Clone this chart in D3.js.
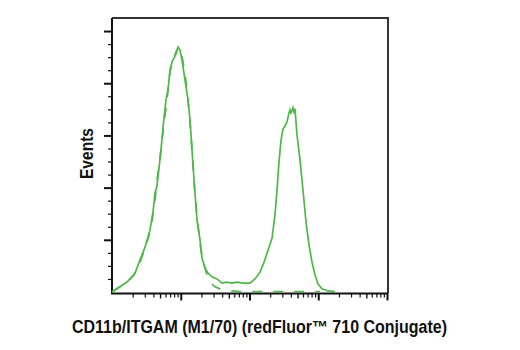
<!DOCTYPE html>
<html>
<head>
<meta charset="utf-8">
<script src="https://cdn.jsdelivr.net/npm/d3@7"></script>
<style>
  html, body { margin: 0; padding: 0; background: #fff; }
  svg { display: block; }
  text { font-family: "Liberation Sans Narrow", "Arial Narrow", "Liberation Sans", sans-serif; font-weight: bold; fill: #111; }
</style>
</head>
<body>
<svg id="chart" width="520" height="350"></svg>
<script>
// Stained sample (solid line): fluorescence intensity and event counts
const stainedX = [10, 13, 16.5, 19.5, 21.6, 25.5, 30.2, 35.7, 39.5, 42.2, 45.1, 48.3, 51.6, 55.2, 61, 65.2, 69.8, 74.6, 79.8, 85.3, 91.2, 97.5, 104.2, 115.3, 127.5, 136.3, 145.8, 156, 172.2, 190.5, 203.7, 225.3, 249, 284.8, 336.7, 398, 470.5, 556, 658, 804, 1016, 1202, 1421, 1625, 1858, 2125, 2349, 2512, 2686, 2872, 3071, 3284, 3511, 3754, 3882, 4015, 4152, 4293, 4439, 4590, 4909, 5428, 6002, 6637, 7339, 8115, 8973, 9921, 11340, 13870, 17500];
const stainedY = [0, 10, 19, 29, 36, 61, 86, 119, 153, 190, 203, 238, 272, 316, 368, 387, 425, 441, 448, 456, 469, 464, 445, 406, 368, 330, 272, 215, 138, 100, 65, 46, 36, 29, 25, 17, 19, 17, 19, 17, 17, 25, 38, 57, 80, 103, 148, 195, 249, 291, 312, 318, 326, 343, 349, 343, 347, 353, 345, 351, 301, 253, 195, 134, 90, 57, 33, 15, 6, 2, 1];

// Isotype control (dashed line)
const controlX = [10, 13, 17.1, 20.9, 25.5, 31.2, 36.9, 42.2, 46.7, 51.6, 57, 63, 69.8, 77.1, 85.3, 94.3, 101, 107.9, 115.3, 123.3, 131.8, 141, 150.8, 161.2, 178.1, 197, 217.8, 240.7, 275.3, 315, 372, 452, 556, 728, 10600];
const controlY = [0, 10, 21, 33, 57, 88, 123, 176, 230, 272, 322, 368, 422, 445, 460, 471, 460, 441, 418, 387, 349, 301, 243, 186, 128, 80, 52, 33, 17, 10, 6, 3, 2, 1, 1];

// Axis ticks (no labels shown in the reference)
const xMajorTicks = [100, 1000, 10000, 100000];
const xMidTicks = [50, 500, 5000, 50000];
const xMinorTicks = [20, 30, 40, 60, 70, 80, 90, 200, 300, 400, 600, 700, 800, 900, 2000, 3000, 4000, 6000, 7000, 8000, 9000, 20000, 30000, 40000, 60000, 70000, 80000, 90000];
const yMajorTicks = [0, 100, 200, 300, 400, 500];
const yMinorTicks = [25, 50, 75, 125, 150, 175, 225, 250, 275, 325, 350, 375, 425, 450, 475];

const xLabel = "CD11b/ITGAM (M1/70) (redFluor\u2122 710 Conjugate)";
const yLabel = "Events";

const svg = d3.select("#chart");
const L = 112, R = 388, T = 18, B = 292, AX = 293.5;
const green = "#4db848";

const x = d3.scaleLog().domain([10, 100000]).range([L, R - 1]);
const y = d3.scaleLinear().domain([0, 525]).range([B, T]);

// Frame (top and right)
svg.append("path")
  .attr("d", `M${L},${T}H${R}V${AX}`)
  .attr("fill", "none").attr("stroke", "#333").attr("stroke-width", 2);

function drawAxis(gen, cls, width) {
  const g = svg.append("g").attr("class", cls).call(gen);
  g.selectAll(".tick line").attr("stroke", "#111").attr("stroke-width", width);
  g.select(".domain").remove();
  g.selectAll("text").remove();
  return g;
}

// x axis
const gxB = `translate(0,${AX})`;
drawAxis(d3.axisBottom(x).tickValues(xMinorTicks).tickSize(4).tickFormat(""), "xminor", 1.2).attr("transform", gxB);
drawAxis(d3.axisBottom(x).tickValues(xMidTicks).tickSize(5).tickFormat(""), "xmid", 1.4).attr("transform", gxB);
drawAxis(d3.axisBottom(x).tickValues(xMajorTicks).tickSize(7).tickFormat(""), "xmajor", 2).attr("transform", gxB);

// y axis
const gyL = `translate(${L},0)`;
drawAxis(d3.axisLeft(y).tickValues(yMinorTicks).tickSize(4).tickFormat(""), "yminor", 1.2).attr("transform", gyL);
drawAxis(d3.axisLeft(y).tickValues(yMajorTicks.filter(v => v > 0)).tickSize(8).tickFormat(""), "ymajor", 2).attr("transform", gyL);

// axis lines
svg.append("path")
  .attr("d", `M${L},${T}V${AX}H${R}`)
  .attr("fill", "none").attr("stroke", "#111").attr("stroke-width", 2);

const line = d3.line().x(d => x(d[0])).y(d => y(d[1]));

svg.append("path")
  .datum(controlX.map((v, i) => [v, controlY[i]]))
  .attr("d", line)
  .attr("fill", "none").attr("stroke", green).attr("stroke-width", 1.7)
  .attr("stroke-dasharray", "10,11");

svg.append("path")
  .datum(stainedX.map((v, i) => [v, stainedY[i]]))
  .attr("d", line)
  .attr("fill", "none").attr("stroke", green).attr("stroke-width", 1.7);

svg.append("text")
  .attr("x", 259.5).attr("y", 333)
  .attr("text-anchor", "middle")
  .attr("font-size", 17.5)
  .attr("textLength", 375)
  .attr("lengthAdjust", "spacingAndGlyphs")
  .text(xLabel);

svg.append("text")
  .attr("transform", "translate(93,153.5) rotate(-90)")
  .attr("text-anchor", "middle")
  .attr("font-size", 17.5)
  .attr("textLength", 51)
  .attr("lengthAdjust", "spacingAndGlyphs")
  .text(yLabel);
</script>
</body>
</html>
